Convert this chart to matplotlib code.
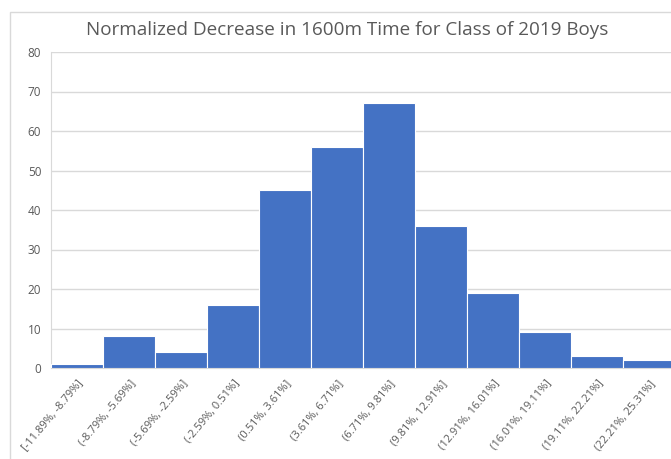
import matplotlib.pyplot as plt
import numpy as np
from matplotlib.patches import Rectangle

# histogram bins and counts
bins = ["[-11.89%, -8.79%]", "(-8.79%, -5.69%]", "(-5.69%, -2.59%]", "(-2.59%, 0.51%]",
        "(0.51%, 3.61%]", "(3.61%, 6.71%]", "(6.71%, 9.81%]", "(9.81%, 12.91%]",
        "(12.91%, 16.01%]", "(16.01%, 19.11%]", "(19.11%, 22.21%]", "(22.21%, 25.31%]"]
counts = [1, 8, 4, 16, 45, 56, 67, 36, 19, 9, 3, 2]
yticks = [0, 10, 20, 30, 40, 50, 60, 70, 80]

plt.rcParams['font.family'] = ['Open Sans', 'DejaVu Sans']
grey = '#595959'

fig = plt.figure(figsize=(6.71, 4.59), dpi=100)
# chart border (Excel style)
fig.patches.append(Rectangle((10 / 671, -0.1), 1.2, 1.1 - 12 / 459,
                             transform=fig.transFigure, fill=False,
                             edgecolor='#d9d9d9', linewidth=1.0))

ax = fig.add_axes([51 / 671, 1 - 368 / 459, 624 / 671, 316 / 459])
x = np.arange(len(counts))
ax.bar(x, counts, width=1.0, color='#4472C4', edgecolor='white', linewidth=0.8, zorder=3)
ax.set_xlim(-0.5, len(counts) - 0.5)
ax.set_ylim(0, 80)
ax.set_yticks(yticks)
ax.set_yticklabels([str(v) for v in yticks], color=grey, fontsize=8.5)
ax.yaxis.grid(True, color='#d9d9d9', linewidth=1.0, zorder=0)
ax.set_xticks(x)
ax.set_xticklabels(bins, rotation=50, ha='right', rotation_mode='anchor',
                   color=grey, fontsize=8)
ax.tick_params(axis='both', length=0)
ax.tick_params(axis='x', pad=7)
ax.tick_params(axis='y', pad=7)
for s in ['top', 'right']:
    ax.spines[s].set_visible(False)
ax.spines['bottom'].set_color('#d9d9d9')
ax.spines['left'].set_color('#d9d9d9')

fig.text(347 / 671, 1 - 30 / 459, "Normalized Decrease in 1600m Time for Class of 2019 Boys",
         ha='center', va='center', fontsize=13.6, color=grey)

fig.savefig('out.png', dpi=100)
